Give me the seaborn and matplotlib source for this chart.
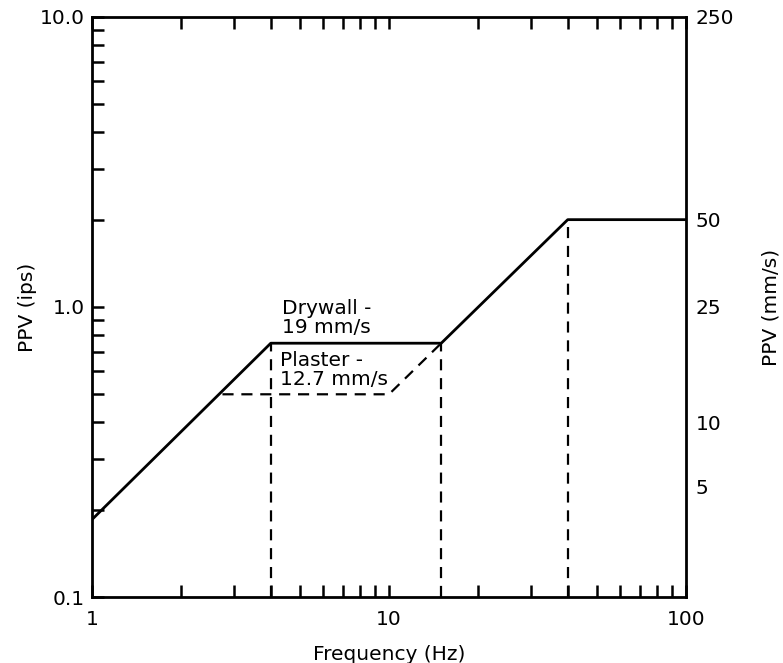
import matplotlib
matplotlib.use("Agg")
import matplotlib.pyplot as plt
import seaborn as sns
import pandas as pd
from matplotlib.ticker import LogLocator, NullFormatter

# Data
drywall_freq = [1, 4, 15, 40, 100]
drywall_ppv = [0.185, 0.75, 0.75, 2.0, 2.0]
plaster_freq = [2.75, 10, 15]
plaster_ppv = [0.5, 0.5, 0.75]
vline_freq = [4, 15, 40]
vline_top = [0.75, 0.75, 2.0]
left_ticks = [0.1, 1.0, 10.0]
left_labels = ["0.1", "1.0", "10.0"]
x_ticks = [1, 10, 100]
x_labels = ["1", "10", "100"]
right_pos = [10.0, 2.0, 1.0, 0.40, 0.24]
right_labels = ["250", "50", "25", "10", "5"]
annotations = [("Drywall -\n19 mm/s", 4.35, 0.785), ("Plaster -\n12.7 mm/s", 4.3, 0.52)]

FS = 14.5

sns.set_style("ticks")
plt.rcParams['font.family'] = ['DejaVu Sans']
plt.rcParams['text.color'] = 'black'
plt.rcParams['axes.labelcolor'] = 'black'
plt.rcParams['xtick.color'] = 'black'
plt.rcParams['ytick.color'] = 'black'

fig = plt.figure(figsize=(7.83, 6.63), dpi=100)
ax = fig.add_axes([0.1175, 0.0995, 0.7585, 0.875])

dry = pd.DataFrame({"f": drywall_freq, "v": drywall_ppv})
pla = pd.DataFrame({"f": plaster_freq, "v": plaster_ppv})
sns.lineplot(data=dry, x="f", y="v", ax=ax, color="black", linewidth=2.0, sort=False)
sns.lineplot(data=pla, x="f", y="v", ax=ax, color="black", linewidth=1.6, sort=False,
             linestyle=(0, (5, 3.5)))
ax.vlines(vline_freq, 0.1, vline_top, colors="black", linewidth=1.6, linestyles=[(0, (5, 3.5))])

ax.set_xscale("log")
ax.set_yscale("log")
ax.set_xlim(1, 100)
ax.set_ylim(0.1, 10)

ax.set_xticks(x_ticks)
ax.set_xticklabels(x_labels)
ax.set_yticks(left_ticks)
ax.set_yticklabels(left_labels)
ax.xaxis.set_minor_locator(LogLocator(base=10, subs=range(2, 10)))
ax.yaxis.set_minor_locator(LogLocator(base=10, subs=range(2, 10)))
ax.xaxis.set_minor_formatter(NullFormatter())
ax.yaxis.set_minor_formatter(NullFormatter())
ax.tick_params(which="both", direction="in", top=True, right=True, length=8.5, width=1.8,
               labelsize=FS, color="black", labelcolor="black")
ax.tick_params(axis="x", which="major", pad=9)
ax.tick_params(axis="y", which="major", pad=5)
for s in ax.spines.values():
    s.set_linewidth(2.0)
    s.set_color("black")

ax.set_xlabel("Frequency (Hz)", fontsize=FS, labelpad=12, color="black")
ax.set_ylabel("PPV (ips)", fontsize=FS, labelpad=2, color="black")

ax2 = ax.twinx()
ax2.set_yscale("log")
ax2.set_ylim(0.1, 10)
ax2.yaxis.set_minor_locator(LogLocator(base=10, subs=[]))
ax2.yaxis.set_minor_formatter(NullFormatter())
ax2.set_yticks(right_pos)
ax2.set_yticklabels(right_labels)
ax2.tick_params(axis="y", which="both", length=0, labelsize=FS, pad=7, labelcolor="black")
for s in ax2.spines.values():
    s.set_visible(False)
ax2.set_ylabel("PPV (mm/s)", fontsize=FS, labelpad=20, color="black")

for txt, xx, yy in annotations:
    ax.text(xx, yy, txt, fontsize=FS, ha="left", va="bottom", linespacing=1.05, color="black")

fig.savefig("out.png", dpi=100)
